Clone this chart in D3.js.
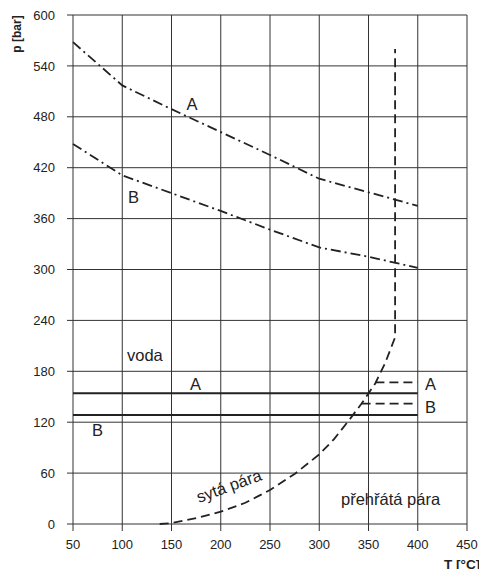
<!DOCTYPE html>
<html>
<head>
<meta charset="utf-8">
<script src="https://cdn.jsdelivr.net/npm/d3@7/dist/d3.min.js"></script>
<style>
  html, body { margin: 0; padding: 0; background: #fff; }
  svg { display: block; font-family: "Liberation Sans", Arial, sans-serif; }
</style>
</head>
<body>
<svg id="chart" width="479" height="569"></svg>
<script>
// ---- data ----
const xTicks = [50, 100, 150, 200, 250, 300, 350, 400, 450];
const yTicks = [0, 60, 120, 180, 240, 300, 360, 420, 480, 540, 600];

const curveT = [50, 100, 150, 200, 250, 300, 350, 400];
const curveA_p = [568, 517, 489, 462, 435, 407, 391, 375];
const curveB_p = [448, 411, 390, 369, 347, 326, 315, 302];

const satT = [138, 150, 175, 200, 225, 250, 275, 300, 315, 330, 343, 357, 367, 377, 377];
const satP = [0, 1, 7, 14.5, 25, 40, 59, 82, 100, 122, 142, 166, 190, 220, 560];

const lineA_p = 154, lineB_p = 128.5;
const lineT = [50, 400];
const dashA_p = 167, dashA_T = [357, 400];
const dashB_p = 142, dashB_T = [343, 400];

// ---- layout ----
const svg = d3.select("#chart");
const x = d3.scaleLinear().domain([50, 450]).range([73, 467]);
const y = d3.scaleLinear().domain([0, 600]).range([524, 15]);
const ink = "#222";

// grid + ticks
svg.append("g").selectAll("line").data(yTicks).join("line")
  .attr("x1", x(50) - 6).attr("x2", x(450))
  .attr("y1", d => y(d)).attr("y2", d => y(d))
  .attr("stroke", "#333").attr("stroke-width", 1);
svg.append("g").selectAll("line").data(xTicks).join("line")
  .attr("x1", d => x(d)).attr("x2", d => x(d))
  .attr("y1", y(600)).attr("y2", y(0) + 7)
  .attr("stroke", "#333").attr("stroke-width", 1);

// tick labels
svg.append("g").selectAll("text").data(yTicks).join("text")
  .attr("x", 55).attr("y", d => y(d) + 4.6)
  .attr("text-anchor", "end").attr("font-size", 13).attr("fill", ink)
  .text(d => d);
svg.append("g").selectAll("text").data(xTicks).join("text")
  .attr("x", d => x(d)).attr("y", 549)
  .attr("text-anchor", "middle").attr("font-size", 13).attr("fill", ink)
  .text(d => d);

// axis titles
svg.append("text").attr("transform", "translate(21,34) rotate(-90)")
  .attr("text-anchor", "middle").attr("font-size", 12).attr("font-weight", "bold")
  .attr("fill", ink).text("p [bar]");
svg.append("text").attr("x", 444).attr("y", 568.5)
  .attr("font-size", 13.5).attr("font-weight", "bold").attr("fill", ink).text("T [°C]");

const line = d3.line().x(d => x(d[0])).y(d => y(d[1]));

// dash-dot curves
[curveA_p, curveB_p].forEach(ps => {
  svg.append("path").datum(curveT.map((t, i) => [t, ps[i]]))
    .attr("d", line).attr("fill", "none").attr("stroke", ink)
    .attr("stroke-width", 1.8).attr("stroke-dasharray", "10,4,2,4");
});

// saturation curve
svg.append("path").datum(satT.map((t, i) => [t, satP[i]]))
  .attr("d", line).attr("fill", "none").attr("stroke", ink)
  .attr("stroke-width", 1.8).attr("stroke-dasharray", "9,5");

// solid horizontal lines
[lineA_p, lineB_p].forEach(p => {
  svg.append("path").datum(lineT.map(t => [t, p]))
    .attr("d", line).attr("fill", "none").attr("stroke", ink).attr("stroke-width", 2);
});
// dashed horizontal continuations
[[dashA_T, dashA_p], [dashB_T, dashB_p]].forEach(([ts, p]) => {
  svg.append("path").datum(ts.map(t => [t, p]))
    .attr("d", line).attr("fill", "none").attr("stroke", ink)
    .attr("stroke-width", 1.8).attr("stroke-dasharray", "9,5");
});

// labels
const labels = [
  { t: "A", x: 186.5, y: 110 },
  { t: "B", x: 128, y: 203 },
  { t: "voda", x: 127, y: 360.5 },
  { t: "A", x: 190, y: 389.5 },
  { t: "B", x: 92, y: 435.5 },
  { t: "A", x: 425, y: 390 },
  { t: "B", x: 425, y: 412.5 },
  { t: "přehřátá pára", x: 341, y: 505 }
];
svg.append("g").selectAll("text").data(labels).join("text")
  .attr("x", d => d.x).attr("y", d => d.y)
  .attr("font-size", 16.5).attr("fill", ink).text(d => d.t);

svg.append("text").attr("transform", "translate(199,503) rotate(-20)")
  .attr("font-size", 16.5).attr("fill", ink).text("sytá pára");
</script>
</body>
</html>
